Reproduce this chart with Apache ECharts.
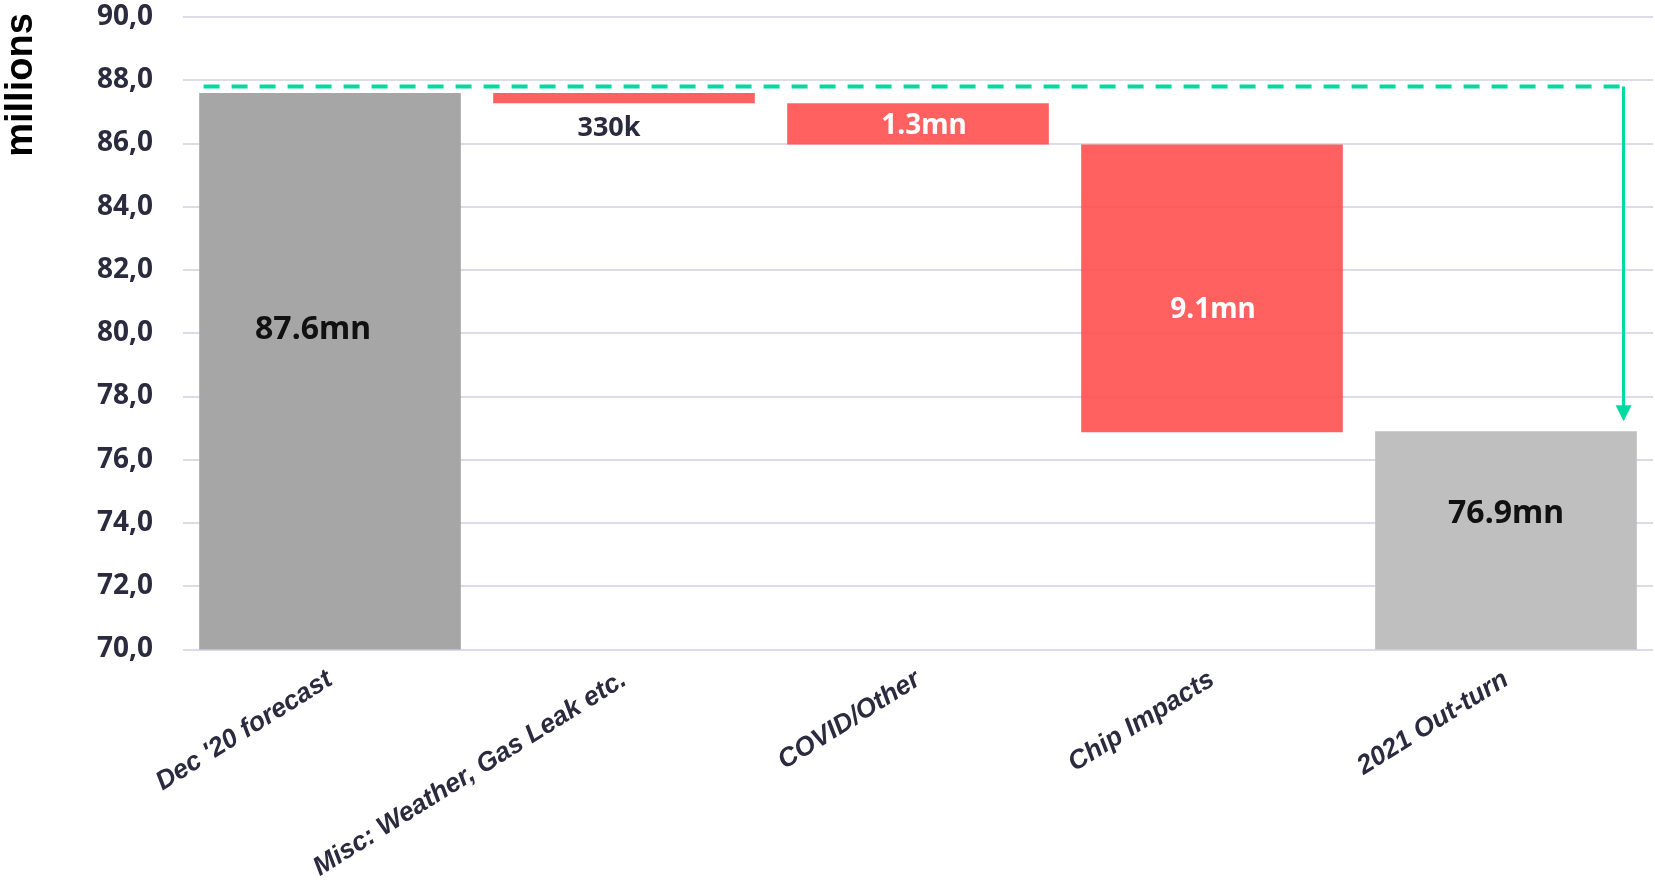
<!DOCTYPE html>
<html>
<head>
<meta charset="utf-8">
<script src="https://cdn.jsdelivr.net/npm/echarts@6/dist/echarts.min.js"></script>
<style>
  html, body { margin: 0; padding: 0; background: #ffffff; }
  #chart { width: 1655px; height: 883px; }
</style>
</head>
<body>
<div id="chart"></div>
<script>
// ---- Data ----
const categories = ["Dec '20 forecast", "Misc: Weather, Gas Leak etc.", "COVID/Other", "Chip Impacts", "2021 Out-turn"];
const startTotal = 87.6;
const decreases = [0.33, 1.3, 9.1];
const endTotal = 76.9;
const valueLabels = ["87.6mn", "330k", "1.3mn", "9.1mn", "76.9mn"];
const yMin = 70, yMax = 90, yStep = 2;
// guide arrow (x in category units, y in millions)
const guideLevel = 87.8;
const guideStartX = -0.43;
const guideEndX = 4.40;
const arrowTipLevel = 77.47;

// ---- Build waterfall ----
const baseValues = [0];
const barValues = [startTotal];
let running = startTotal;
decreases.forEach(d => { running = running - d; baseValues.push(running); barValues.push(d); });
baseValues.push(0);
barValues.push(endTotal);

const navy = '#2B2A3F';
const red = 'rgba(255,79,79,0.9)';
const barColors = ['#A6A6A6', red, red, red, '#BFBFBF'];
const labelCfg = [
  { position: 'inside', offset: [-17, -41], color: '#111111', fontSize: 32 },
  { position: 'bottom', distance: 11, offset: [-15, 0], color: navy, fontSize: 27 },
  { position: 'inside', offset: [6, 2], color: '#ffffff', fontSize: 28 },
  { position: 'inside', offset: [1, 22], color: '#ffffff', fontSize: 28 },
  { position: 'inside', offset: [0, -26], color: '#111111', fontSize: 32 }
];

const visibleData = barValues.map((v, i) => ({
  value: v,
  itemStyle: { color: barColors[i] },
  label: Object.assign({ show: true, formatter: valueLabels[i], fontWeight: 'bold', fontFamily: 'Noto Sans' }, labelCfg[i])
}));

const chart = echarts.init(document.getElementById('chart'), null, { renderer: 'canvas' });
chart.setOption({
  animation: false,
  backgroundColor: '#ffffff',
  grid: { left: 183, right: 2, top: 17, bottom: 232, containLabel: false },
  xAxis: [
    {
      type: 'category',
      data: categories,
      axisLine: { show: false },
      axisTick: { show: false },
      axisLabel: {
        rotate: 32,
        interval: 0,
        margin: 28,
        color: navy,
        fontFamily: 'Liberation Sans',
        fontWeight: 'bold',
        fontStyle: 'italic',
        fontSize: 26.5
      }
    },
    { type: 'value', min: -0.5, max: 4.5, show: false }
  ],
  yAxis: {
    type: 'value',
    min: yMin, max: yMax, interval: yStep,
    axisLine: { show: false },
    axisTick: { show: false },
    splitLine: { lineStyle: { color: '#DCDBE7', width: 2 } },
    axisLabel: {
      margin: 30,
      color: navy,
      fontFamily: 'Noto Sans',
      fontWeight: 'bold',
      fontSize: 28,
      formatter: v => v.toFixed(1).replace('.', ',')
    }
  },
  graphic: [{
    type: 'text',
    x: 22, y: 85,
    rotation: Math.PI / 2,
    style: {
      text: 'millions',
      fill: '#000000',
      font: 'bold 38px "Liberation Sans", Arial, sans-serif',
      textAlign: 'center',
      textVerticalAlign: 'middle'
    }
  }],
  series: [
    {
      type: 'bar', stack: 'wf', barWidth: '89%',
      itemStyle: { color: 'transparent' },
      emphasis: { disabled: true },
      data: baseValues
    },
    {
      type: 'bar', stack: 'wf', barWidth: '89%',
      emphasis: { disabled: true },
      data: visibleData,
      z: 2
    },
    {
      type: 'line',
      xAxisIndex: 1,
      symbol: 'none',
      z: 5,
      lineStyle: { color: '#00D9A0', width: 4, type: [16, 12] },
      data: [[guideStartX, guideLevel], [guideEndX, guideLevel]],
      markLine: {
        silent: true,
        symbol: ['none', 'triangle'],
        symbolSize: [16, 16],
        label: { show: false },
        lineStyle: { color: '#00D9A0', width: 3, type: 'solid' },
        data: [[{ coord: [guideEndX, guideLevel] }, { coord: [guideEndX, arrowTipLevel] }]]
      }
    }
  ]
});
</script>
</body>
</html>
